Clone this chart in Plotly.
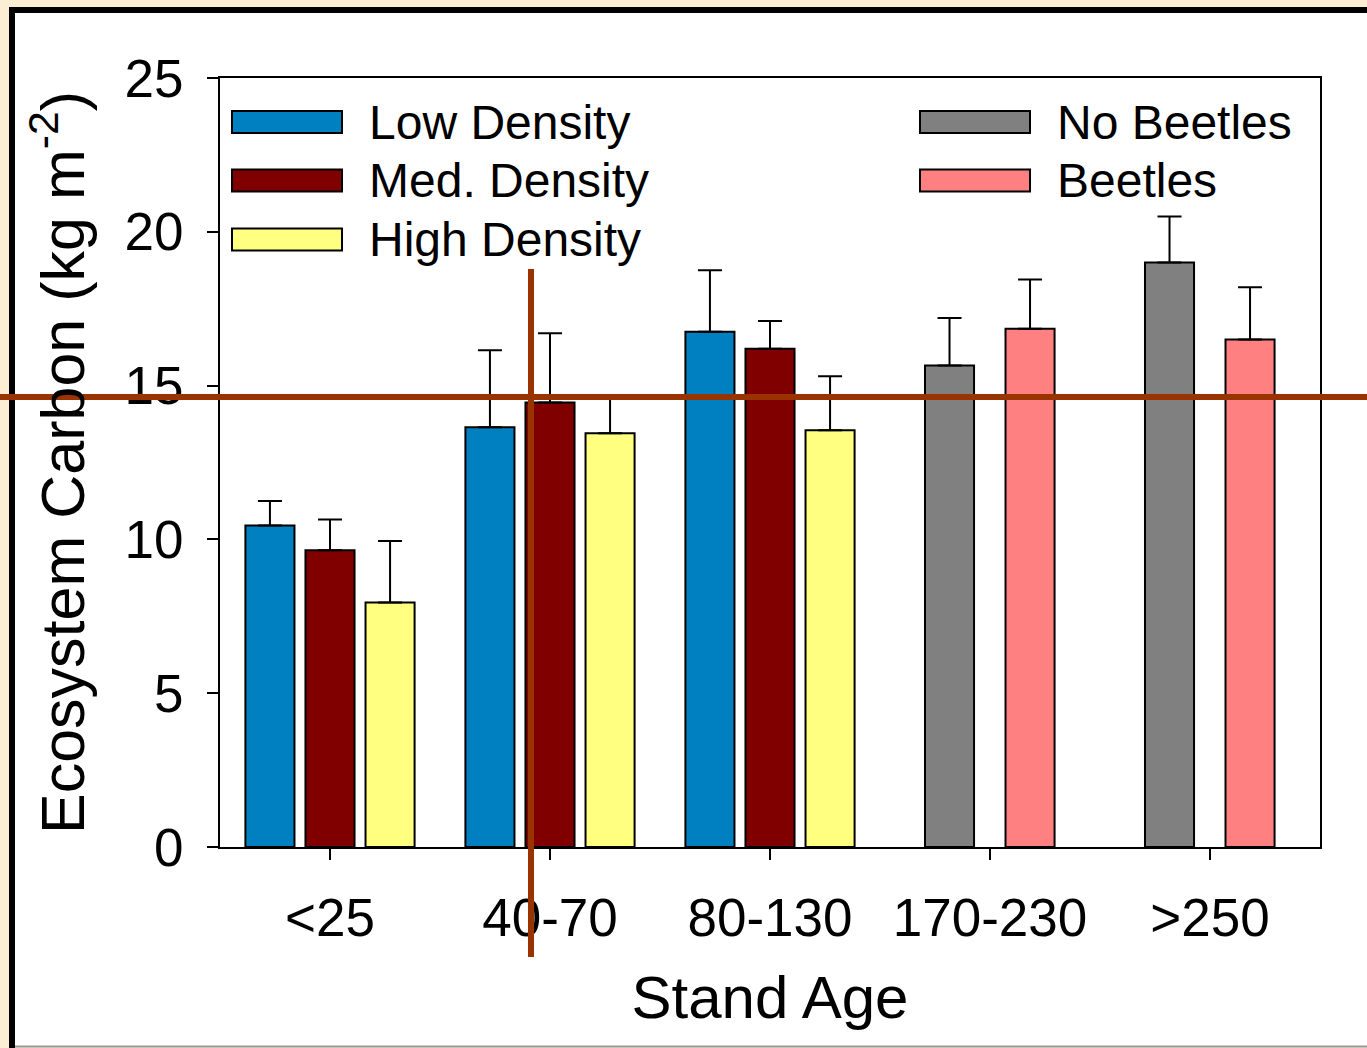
import plotly.graph_objects as go

# Stand-age classes and ecosystem carbon (kg m^-2) per group, with upper error
stand_age = ["<25", "40-70", "80-130", "170-230", ">250"]

density_ages = ["<25", "40-70", "80-130"]
low_density = [10.45, 13.65, 16.75]
low_density_err = [0.80, 2.50, 2.00]
med_density = [9.65, 14.45, 16.20]
med_density_err = [1.00, 2.25, 0.90]
high_density = [7.95, 13.45, 13.55]
high_density_err = [2.00, 1.15, 1.75]

beetle_ages = ["170-230", ">250"]
no_beetles = [15.65, 19.00]
no_beetles_err = [1.55, 1.50]
beetles = [16.85, 16.50]
beetles_err = [1.60, 1.70]

crosshair_y = 14.63

FONT = "Liberation Sans, Arial, sans-serif"
W, H = 1367, 1048
L, R, T, B = 220, 1320, 78, 847  # plot area in pixels


def xp(px):
    return (px - L) / (R - L)


def yp(py):
    return (B - py) / (B - T)


BAR_W = 0.223


def bar(name, x, y, err, color, center):
    return go.Bar(
        name=name, x=x, y=y,
        width=BAR_W, offset=center - BAR_W / 2,
        marker=dict(color=color, line=dict(color="black", width=2)),
        error_y=dict(type="data", symmetric=False, array=err,
                     arrayminus=[0] * len(err), color="black",
                     thickness=2, width=12),
        showlegend=False,
    )


fig = go.Figure()
fig.add_trace(bar("Low Density", density_ages, low_density, low_density_err, "#0080C0", -0.273))
fig.add_trace(bar("Med. Density", density_ages, med_density, med_density_err, "#800000", 0.0))
fig.add_trace(bar("High Density", density_ages, high_density, high_density_err, "#FFFF80", 0.273))
fig.add_trace(bar("No Beetles", beetle_ages, no_beetles, no_beetles_err, "#808080", -0.184))
fig.add_trace(bar("Beetles", beetle_ages, beetles, beetles_err, "#FF8080", 0.182))

shapes = [
    # white panel with black top/left border
    dict(type="rect", xref="paper", yref="paper", x0=xp(15), x1=xp(1367), y0=yp(1046), y1=yp(13),
         fillcolor="white", line=dict(width=0), layer="below"),
    dict(type="line", xref="paper", yref="paper", x0=xp(12), x1=xp(12), y0=yp(7), y1=yp(1048),
         line=dict(color="black", width=6), layer="below"),
    dict(type="line", xref="paper", yref="paper", x0=xp(9), x1=xp(1367), y0=yp(10), y1=yp(10),
         line=dict(color="black", width=6), layer="below"),
    dict(type="line", xref="paper", yref="paper", x0=xp(15), x1=xp(1367), y0=yp(1046.5), y1=yp(1046.5),
         line=dict(color="#999999", width=2), layer="below"),
    # crosshair
    dict(type="line", xref="paper", yref="y", x0=xp(0), x1=xp(1367), y0=crosshair_y, y1=crosshair_y,
         line=dict(color="#993300", width=6), layer="above"),
    dict(type="line", xref="paper", yref="paper", x0=xp(531), x1=xp(531), y0=yp(269), y1=yp(957),
         line=dict(color="#993300", width=6), layer="above"),
]

annotations = []
legend_items = [
    ("Low Density", "#0080C0", 232, 122),
    ("Med. Density", "#800000", 232, 180.5),
    ("High Density", "#FFFF80", 232, 239.5),
    ("No Beetles", "#808080", 920, 122),
    ("Beetles", "#FF8080", 920, 180.5),
]
for label, color, sx, cy in legend_items:
    shapes.append(dict(type="rect", xref="paper", yref="paper",
                       x0=xp(sx), x1=xp(sx + 110), y0=yp(cy + 11), y1=yp(cy - 11),
                       fillcolor=color, line=dict(color="black", width=2), layer="above"))
    annotations.append(dict(xref="paper", yref="paper", x=xp(sx + 135), y=yp(cy),
                            xanchor="left", yanchor="middle", text=label, showarrow=False,
                            font=dict(family=FONT, size=48, color="black")))

fig.update_layout(
    width=W, height=H,
    margin=dict(l=L, r=W - R, t=T, b=H - B, pad=0),
    paper_bgcolor="#FBEED5",
    plot_bgcolor="white",
    barmode="overlay",
    font=dict(family=FONT, color="black"),
    shapes=shapes,
    annotations=annotations,
    xaxis=dict(
        type="category", categoryorder="array", categoryarray=stand_age,
        range=[-0.5, 4.5],
        showline=True, linecolor="black", linewidth=2, mirror=True,
        ticks="outside", ticklen=11, tickwidth=2, tickcolor="black",
        tickfont=dict(size=53, family=FONT), ticklabelstandoff=12,
        showgrid=False, zeroline=False,
        title=dict(text="Stand Age", font=dict(size=60, family=FONT), standoff=30),
    ),
    yaxis=dict(
        range=[0, 25], tickvals=[0, 5, 10, 15, 20, 25],
        showline=True, linecolor="black", linewidth=2, mirror=True,
        ticks="outside", ticklen=11, tickwidth=2, tickcolor="black",
        tickfont=dict(size=53, family=FONT), ticklabelstandoff=13,
        showgrid=False, zeroline=False,
        title=dict(text="Ecosystem Carbon (kg m<sup>-2</sup>)",
                   font=dict(size=61, family=FONT), standoff=20),
    ),
)

fig.write_html("out.html")
